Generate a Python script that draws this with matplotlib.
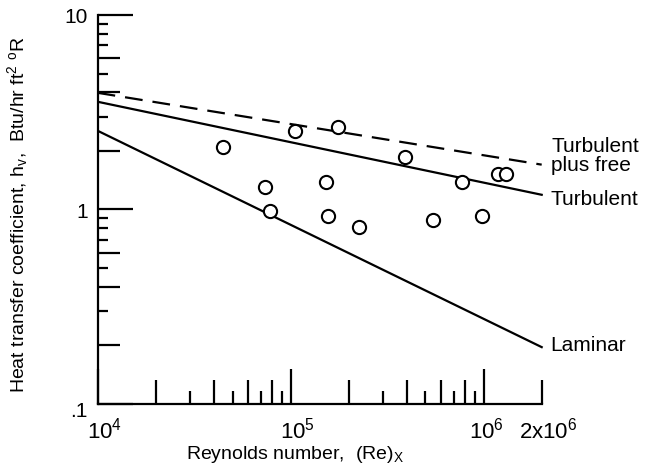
import numpy as np
import matplotlib
matplotlib.use('Agg')
import matplotlib.pyplot as plt
import matplotlib.transforms as mtransforms
from matplotlib.ticker import FixedLocator, FixedFormatter

plt.rcParams['font.family'] = ['Liberation Sans', 'DejaVu Sans']
plt.rcParams['mathtext.fontset'] = 'custom'
plt.rcParams['mathtext.rm'] = 'Liberation Sans'
plt.rcParams['mathtext.it'] = 'Liberation Sans'

# measured points
re_pts = [4.47e4, 7.4e4, 7.8e4, 1.05e5, 1.76e5, 1.53e5, 1.56e5, 2.26e5,
          3.9e5, 5.5e5, 7.7e5, 9.8e5, 1.19e6, 1.31e6]
h_pts = [2.10, 1.30, 0.98, 2.54, 2.67, 1.38, 0.93, 0.81,
         1.87, 0.88, 1.39, 0.93, 1.53, 1.53]

# theory lines (end points at Re = 1e4 and 2e6)
re_line = [1e4, 2e6]
h_laminar = [2.54, 0.196]
h_turb = [3.58, 1.19]
h_turb_free = [3.98, 1.70]

y_ticks = [0.1, 0.2, 0.3, 0.4, 0.5, 0.6, 0.7, 0.8, 0.9,
           1, 2, 3, 4, 5, 6, 7, 8, 9, 10]
y_labels = ['.1', '', '', '', '', '', '', '', '', '1',
            '', '', '', '', '', '', '', '', '10']
x_ticks = [1e4, 2e4, 3e4, 4e4, 5e4, 6e4, 7e4, 8e4, 9e4,
           1e5, 2e5, 3e5, 4e5, 5e5, 6e5, 7e5, 8e5, 9e5, 1e6, 2e6]
x_labels = ['$10^4$', '', '', '', '', '', '', '', '', '$10^5$',
            '', '', '', '', '', '', '', '', '$10^6$', '$2x10^6$']

fig = plt.figure(figsize=(6.64, 4.77), dpi=100)
ax = fig.add_axes([0.147, 0.151, 0.817, 0.8155])
ax.set_xscale('log')
ax.set_yscale('log')
ax.set_xlim(1e4, 6.47e6)
ax.set_ylim(0.1, 10)

ax.plot(re_line, h_laminar, color='black', lw=1.6)
ax.plot(re_line, h_turb, color='black', lw=1.6)
ax.plot(re_line, h_turb_free, color='black', lw=1.6, dashes=(8, 4.5))
ax.plot(re_pts, h_pts, 'o', mfc='white', mec='black', mew=1.5, ms=9.5)

ax.annotate('Turbulent\nplus free', xy=(re_line[1], h_turb_free[1]), xytext=(7, 7),
            textcoords='offset points', va='center', ha='left', fontsize=15,
            linespacing=1.05)
ax.annotate('Turbulent', xy=(re_line[1], h_turb[1]), xytext=(6, -3),
            textcoords='offset points', va='center', ha='left', fontsize=15)
ax.annotate('Laminar', xy=(re_line[1], h_laminar[1]), xytext=(6, 2),
            textcoords='offset points', va='center', ha='left', fontsize=15)

for s in ['top', 'right']:
    ax.spines[s].set_visible(False)
ax.spines['left'].set_linewidth(1.6)
ax.spines['bottom'].set_linewidth(1.6)
ax.spines['bottom'].set_bounds(1e4, 2e6)

ax.yaxis.set_major_locator(FixedLocator(y_ticks))
ax.yaxis.set_major_formatter(FixedFormatter(y_labels))
ax.yaxis.set_minor_locator(FixedLocator([]))
ax.xaxis.set_major_locator(FixedLocator(x_ticks))
ax.xaxis.set_major_formatter(FixedFormatter(x_labels))
ax.xaxis.set_minor_locator(FixedLocator([]))
ax.tick_params(direction='in', width=1.6, labelsize=15, pad=7)
ax.tick_params(axis='x', pad=9, labelsize=16)

# tick lengths: decades longest, even digits medium, odd digits short
for t, v in zip(ax.yaxis.get_major_ticks(len(y_ticks)), y_ticks):
    d = round(v / 10 ** np.floor(np.log10(v) + 1e-9))
    if d == 1:
        L = 25
    elif d in (2, 4, 6):
        L = 16
    else:
        L = 7.5
    t.tick1line.set_markersize(L)
for t, v in zip(ax.xaxis.get_major_ticks(len(x_ticks)), x_ticks):
    d = round(v / 10 ** np.floor(np.log10(v) + 1e-9))
    if d == 1:
        L = 25
    elif d in (2, 4, 6, 8):
        L = 17
    else:
        L = 9.5
    t.tick1line.set_markersize(L)

# x tick labels sit a little right of their ticks
for lab, txt in zip(ax.get_xticklabels(), x_labels):
    dx = 3 if txt == '$10^6$' else 7
    shift = mtransforms.ScaledTranslation(dx / 100, 0, fig.dpi_scale_trans)
    lab.set_transform(lab.get_transform() + shift)
shift_y = mtransforms.ScaledTranslation(0, -5 / 100, fig.dpi_scale_trans)
ax.get_yticklabels()[0].set_transform(ax.get_yticklabels()[0].get_transform() + shift_y)

ax.set_xlabel('Reynolds number,  (Re)$_X$', fontsize=14)
ax.set_ylabel('Heat transfer coefficient, h$_v$,  Btu/hr ft$^2$ $^o$R', fontsize=14)
ax.xaxis.set_label_coords(0.364, -0.1)
ax.yaxis.set_label_coords(-0.125, 0.49)

fig.savefig('out.png', dpi=100)
